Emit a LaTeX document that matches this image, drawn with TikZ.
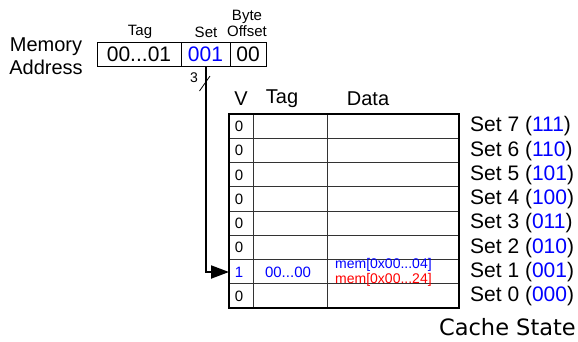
\documentclass[tikz,border=0pt]{standalone}
\usepackage{fontspec}
\setmainfont{Liberation Sans}
\newfontfamily\statefont{DejaVu Sans}
\usetikzlibrary{arrows.meta}
\definecolor{setblue}{RGB}{0,0,255}
\definecolor{memred}{RGB}{255,0,0}

\begin{document}
\begin{tikzpicture}[x=1pt, y=-1pt,
    field/.style={draw, line width=0.9pt, minimum height=24pt, inner sep=0pt, font=\fontsize{21}{21}\selectfont},
    biglbl/.style={font=\fontsize{20}{23}\selectfont},
    smalllbl/.style={font=\fontsize{15}{16}\selectfont},
    memlbl/.style={font=\fontsize{14}{14}\selectfont, anchor=west, inner sep=0pt}]
            \useasboundingbox (0, 0) rectangle (578, 341);

            % memory address
            \node[biglbl, align=center] (memaddr) at (46, 56) {Memory\\Address};
            \node[field, minimum width=84pt] (tagfield) at (139, 54) {00...01};
            \node[field, minimum width=49pt, text=setblue] (setfield) at (205.5, 54) {001};
            \node[field, minimum width=36pt] (offfield) at (248, 54) {00};
            \node[smalllbl] (taglbl) at (140, 32) {Tag};
            \node[smalllbl] (setlbl) at (206, 32) {Set};
            \node[smalllbl, align=center] (offlbl) at (247, 23) {Byte\\Offset};

            % cache table
            \node[biglbl] (vhead) at (241, 99) {V};
            \node[biglbl] (taghead) at (282, 99) {Tag};
            \node[biglbl] (datahead) at (368, 99) {Data};

            \foreach \i in {1,...,7} \draw[line width=0.8pt, black!80] (229, 114 + \i*24.25) -- (459, 114 + \i*24.25);
            \draw[line width=0.8pt, black!80] (253, 114) -- (253, 308);
            \draw[line width=0.8pt, black!80] (327, 114) -- (327, 308);
            \draw[line width=1.8pt] (229, 114) rectangle (459, 308);

            \foreach \i/\b in {0/111,1/110,2/101,3/100,4/011,5/010,6/001,7/000} {
                \pgfmathtruncatemacro{\s}{7-\i}
                \node[font=\fontsize{21}{21}\selectfont, anchor=west, inner sep=0pt] (set\s) at (470, 126.5 + \i*24.25) {Set \s\ ({\color{setblue}\b})};
            }
            \foreach \i in {0,...,5,7} \node[smalllbl] at (239, 126.5 + \i*24.25) {0};
            \node[smalllbl, text=setblue] (vbit) at (239, 272) {1};
            \node[smalllbl, text=setblue] (tagbits) at (288, 272) {00...00};
            \node[memlbl, text=setblue] (memlo) at (335, 265) {mem[0x00...04]};
            \node[memlbl, text=memred] (memhi) at (335, 279.5) {mem[0x00...24]};
            \coordinate (setrow) at (229, 272);

            % set index
            \draw[line width=2pt, -{Triangle[length=18pt, width=13pt]}] (setfield.south) |- (setrow);
            \draw[line width=0.8pt] (199.5, 91) -- (210, 76);
            \node[font=\fontsize{14}{14}\selectfont] (setwidth) at (194, 78) {3};

            \node[font=\statefont\fontsize{22.5}{22.5}\selectfont, anchor=east, inner sep=0pt] (state) at (576, 327.5) {Cache State};
        \end{tikzpicture}
\end{document}
